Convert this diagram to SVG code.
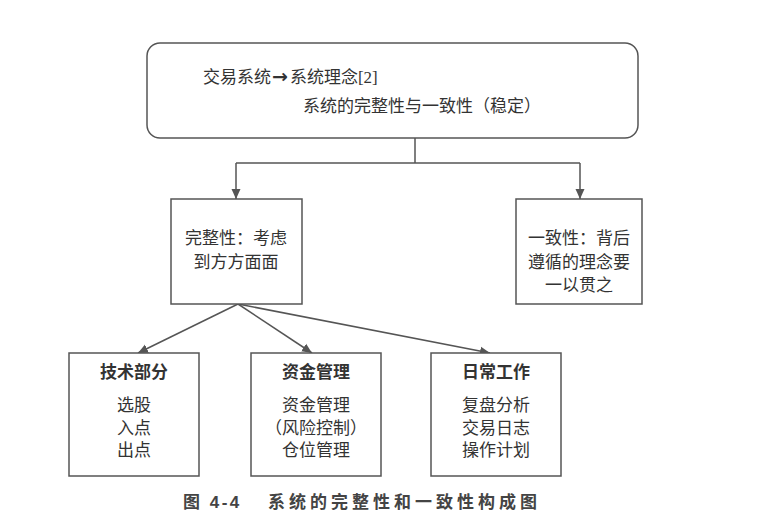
<svg xmlns="http://www.w3.org/2000/svg" width="759" height="527" viewBox="0 0 759 527">
<style>
.box{fill:#fff;stroke:#555;stroke-width:1.5}
.t{font-family:"Liberation Serif","Noto Sans CJK SC",serif;font-size:17px;fill:#333}
.c{text-anchor:middle}
.b{font-family:"Noto Sans CJK SC",sans-serif;font-weight:bold;font-size:17px;fill:#333;text-anchor:middle}
.ln{fill:none;stroke:#555;stroke-width:1.5}
.cap{font-family:"Liberation Sans","Noto Sans CJK SC",sans-serif;font-weight:bold;font-size:17px;fill:#444;letter-spacing:4px}
.arr{font-family:"DejaVu Sans",sans-serif;font-weight:bold;font-size:19px}
</style>
<defs>
<marker id="ah" viewBox="0 0 10 10" refX="10" refY="5" markerWidth="10" markerHeight="10" markerUnits="userSpaceOnUse" orient="auto">
<path d="M0,0.5 L10,5 L0,9.5 Z" fill="#555"/>
</marker>
</defs>
<rect width="759" height="527" fill="#fff"/>
<g id="connectors">
<path class="ln" d="M415,138 V163"/>
<path class="ln" d="M236,163 H580"/>
<path class="ln" d="M236,163 V199" marker-end="url(#ah)"/>
<path class="ln" d="M580,163 V199" marker-end="url(#ah)"/>
<path class="ln" d="M238,304 L138,353" marker-end="url(#ah)"/>
<path class="ln" d="M238,304 L312,353" marker-end="url(#ah)"/>
<path class="ln" d="M238,304 L490,353" marker-end="url(#ah)"/>
</g>
<g id="top">
<rect class="box" x="147" y="43" width="491" height="95" rx="13"/>
<text class="t" x="203" y="83">交易系统<tspan class="arr" dx="1">→</tspan><tspan dx="2">系统理念[2]</tspan></text>
<text class="t" x="303" y="112">系统的完整性与一致性（稳定）</text>
</g>
<g id="integrity">
<rect class="box" x="171" y="199" width="131" height="105"/>
<text class="t c" x="236" y="244">完整性：考虑</text>
<text class="t c" x="236" y="268">到方方面面</text>
</g>
<g id="consistency">
<rect class="box" x="516" y="199" width="126" height="105"/>
<text class="t c" x="579" y="244">一致性：背后</text>
<text class="t c" x="579" y="268">遵循的理念要</text>
<text class="t c" x="579" y="291">一以贯之</text>
</g>
<g id="tech">
<rect class="box" x="69" y="353" width="130" height="123"/>
<text class="b" x="134" y="378">技术部分</text>
<text class="t c" x="134" y="411">选股</text>
<text class="t c" x="134" y="434">入点</text>
<text class="t c" x="134" y="456">出点</text>
</g>
<g id="money">
<rect class="box" x="251" y="353" width="130" height="123"/>
<text class="b" x="316" y="378">资金管理</text>
<text class="t c" x="316" y="411">资金管理</text>
<text class="t c" x="316" y="434">（风险控制）</text>
<text class="t c" x="316" y="456">仓位管理</text>
</g>
<g id="daily">
<rect class="box" x="431" y="353" width="130" height="123"/>
<text class="b" x="496" y="378">日常工作</text>
<text class="t c" x="496" y="411">复盘分析</text>
<text class="t c" x="496" y="434">交易日志</text>
<text class="t c" x="496" y="456">操作计划</text>
</g>
<g id="caption">
<text class="cap" x="183" y="508" style="letter-spacing:2.5px">图 4-4</text>
<text class="cap" x="268" y="508">系统的完整性和一致性构成图</text>
</g>
</svg>
